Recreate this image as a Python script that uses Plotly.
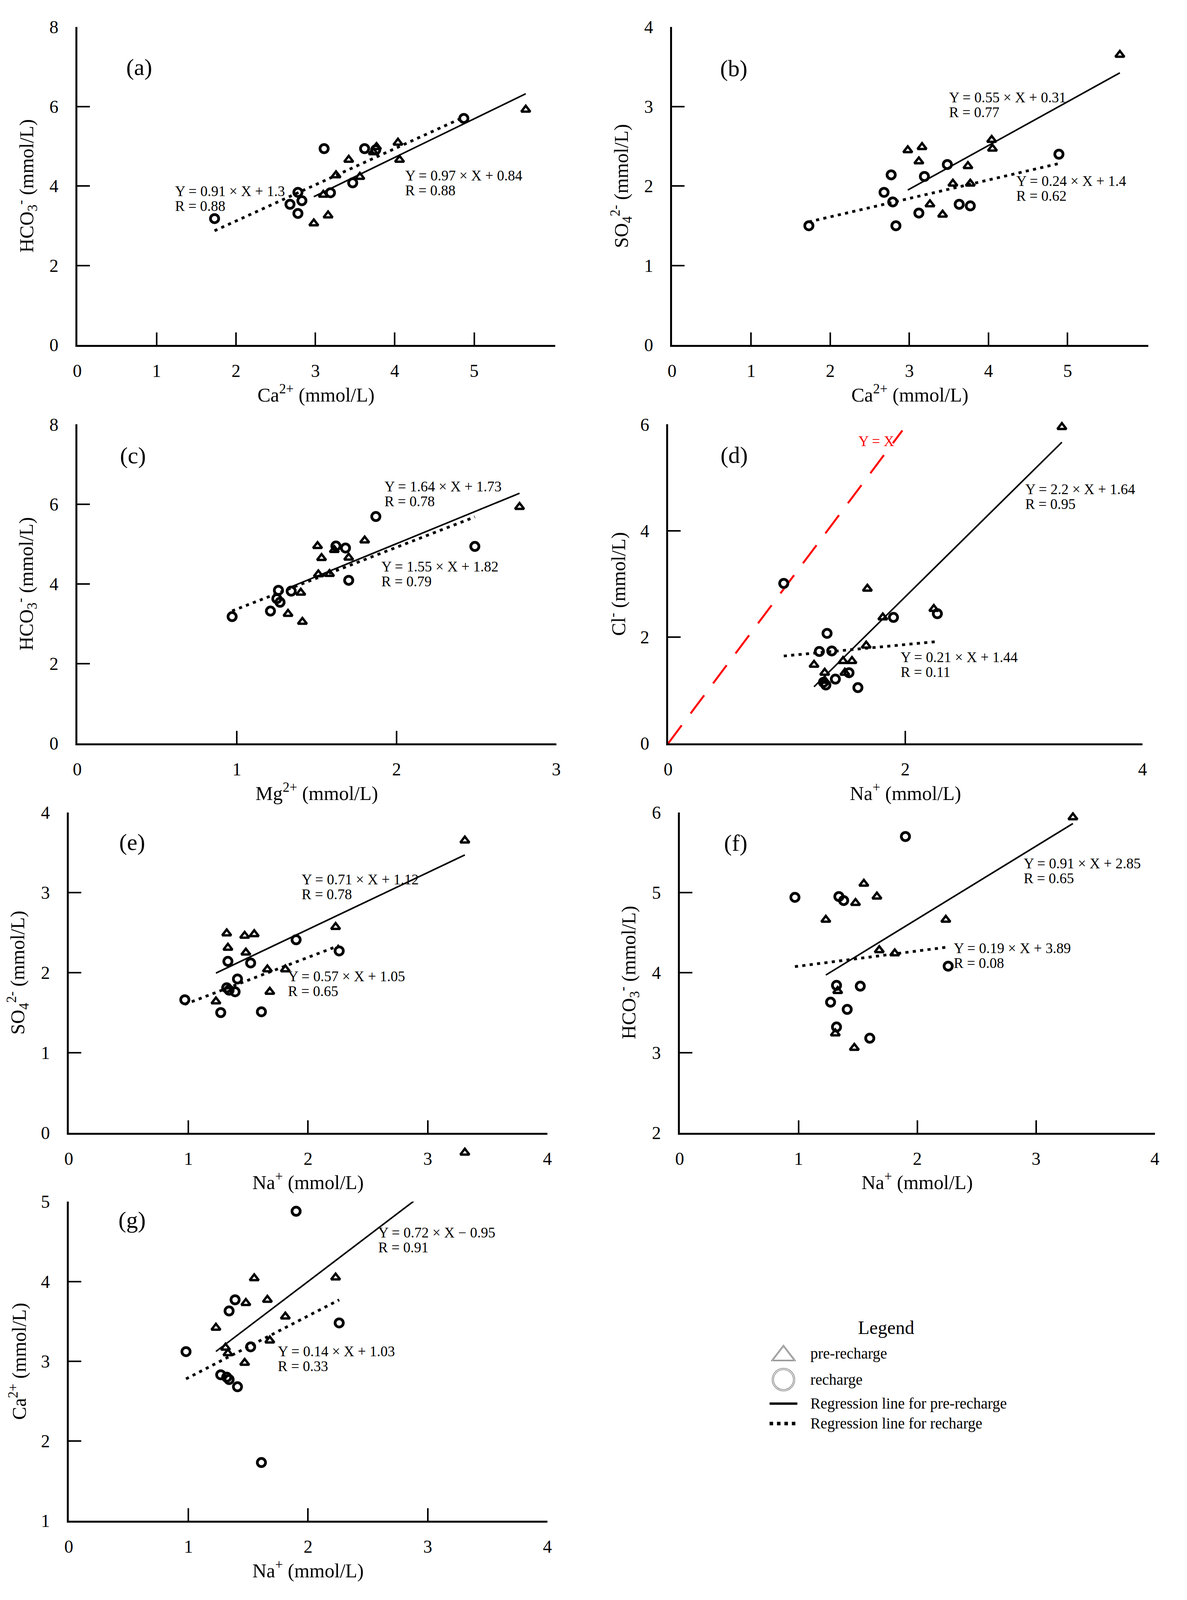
import plotly.graph_objects as go

W, H = 3038, 4582          # reference geometry used for the fractional layout
FONT = "Liberation Serif"

# ---------------- data ----------------
# (a) HCO3- vs Ca2+
a_pre_x = [2.98, 3.16, 3.10, 3.26, 3.42, 3.56, 3.73, 3.77, 4.04, 4.06, 5.65]
a_pre_y = [3.06, 3.26, 3.78, 4.27, 4.66, 4.23, 4.85, 4.98, 5.09, 4.66, 5.92]
a_rec_x = [1.73, 2.78, 2.68, 2.83, 2.78, 3.11, 3.19, 3.47, 3.62, 3.76, 4.87]
a_rec_y = [3.18, 3.84, 3.54, 3.63, 3.31, 4.94, 3.83, 4.08, 4.94, 4.91, 5.70]
# (b) SO4 2- vs Ca2+
b_pre_x = [2.98, 3.16, 3.12, 3.26, 3.42, 3.55, 3.74, 3.77, 4.04, 4.05, 5.66]
b_pre_y = [2.45, 2.49, 2.31, 1.77, 1.64, 2.03, 2.25, 2.03, 2.58, 2.47, 3.65]
b_rec_x = [1.73, 2.77, 2.68, 2.79, 2.83, 3.12, 3.19, 3.48, 3.63, 3.77, 4.89]
b_rec_y = [1.50, 2.14, 1.92, 1.80, 1.50, 1.66, 2.12, 2.27, 1.77, 1.75, 2.40]
# (c) HCO3- vs Mg2+
c_pre_x = [1.41, 1.32, 1.40, 1.505, 1.53, 1.51, 1.58, 1.61, 1.70, 1.80, 2.77]
c_pre_y = [3.05, 3.25, 3.78, 4.95, 4.65, 4.24, 4.25, 4.85, 4.66, 5.09, 5.93]
c_rec_x = [0.97, 1.21, 1.26, 1.25, 1.27, 1.34, 1.62, 1.68, 1.70, 1.87, 2.49]
c_rec_y = [3.18, 3.32, 3.84, 3.63, 3.54, 3.82, 4.95, 4.90, 4.09, 5.69, 4.94]
# (d) Cl- vs Na+
d_pre_x = [1.23, 1.32, 1.32, 1.475, 1.55, 1.49, 1.67, 1.68, 1.81, 2.24, 3.32]
d_pre_y = [1.48, 1.33, 1.18, 1.55, 1.55, 1.33, 1.84, 2.91, 2.37, 2.53, 5.95]
d_rec_x = [0.975, 1.34, 1.275, 1.38, 1.41, 1.31, 1.33, 1.525, 1.60, 1.90, 2.27]
d_rec_y = [3.01, 2.07, 1.73, 1.74, 1.21, 1.15, 1.10, 1.33, 1.05, 2.37, 2.44]
# (e) SO4 2- vs Na+
e_pre_x = [1.23, 1.32, 1.33, 1.47, 1.55, 1.48, 1.66, 1.68, 1.81, 2.23, 3.31, 3.31]
e_pre_y = [1.64, 2.49, 2.31, 2.46, 2.48, 2.25, 2.04, 1.76, 2.04, 2.57, 3.65, -0.25]
e_rec_x = [0.97, 1.27, 1.33, 1.32, 1.34, 1.39, 1.41, 1.52, 1.61, 1.90, 2.26]
e_rec_y = [1.66, 1.50, 2.14, 1.81, 1.78, 1.76, 1.92, 2.12, 1.51, 2.41, 2.27]
# (f) HCO3- vs Na+
f_pre_x = [1.23, 1.31, 1.33, 1.47, 1.48, 1.55, 1.66, 1.68, 1.81, 2.24, 3.31]
f_pre_y = [4.66, 3.24, 3.77, 3.06, 4.87, 5.11, 4.95, 4.28, 4.24, 4.66, 5.94]
f_rec_x = [0.97, 1.27, 1.32, 1.32, 1.34, 1.38, 1.41, 1.52, 1.60, 1.90, 2.26]
f_rec_y = [4.94, 3.63, 3.84, 3.32, 4.95, 4.90, 3.54, 3.83, 3.18, 5.70, 4.08]
# (g) Ca2+ vs Na+
g_pre_x = [1.23, 1.31, 1.33, 1.47, 1.48, 1.55, 1.66, 1.68, 1.81, 2.23, 3.31]
g_pre_y = [3.42, 3.17, 3.10, 2.98, 3.73, 4.04, 3.77, 3.26, 3.56, 4.05, 5.65]
g_rec_x = [0.98, 1.27, 1.32, 1.34, 1.34, 1.39, 1.41, 1.52, 1.61, 1.90, 2.26]
g_rec_y = [3.12, 2.83, 2.80, 2.77, 3.63, 3.77, 2.68, 3.18, 1.73, 4.88, 3.48]

# regression lines as drawn (slope, intercept), pre-recharge and recharge
fit_pre = {"a": (0.97, 0.84), "b": (0.55, 0.31), "c": (1.64, 1.73), "d": (2.20, -1.64),
           "e": (0.71, 1.12), "f": (0.91, 2.85), "g": (1.14, 1.72)}
fit_rec = {"a": (0.91, 1.30), "b": (0.232, 1.148), "c": (1.55, 1.82), "d": (0.21, 1.44),
           "e": (0.57, 1.05), "f": (0.19, 3.89), "g": (0.774, 2.02)}

# equation labels
eq_pre = {"a": ("Y = 0.97 × X + 0.84", "R = 0.88"), "b": ("Y = 0.55 × X + 0.31", "R = 0.77"),
          "c": ("Y = 1.64 × X + 1.73", "R = 0.78"), "d": ("Y = 2.2 × X + 1.64", "R = 0.95"),
          "e": ("Y = 0.71 × X + 1.12", "R = 0.78"), "f": ("Y = 0.91 × X + 2.85", "R = 0.65"),
          "g": ("Y = 0.72 × X − 0.95", "R = 0.91")}
eq_rec = {"a": ("Y = 0.91 × X + 1.3", "R = 0.88"), "b": ("Y = 0.24 × X + 1.4", "R = 0.62"),
          "c": ("Y = 1.55 × X + 1.82", "R = 0.79"), "d": ("Y = 0.21 × X + 1.44", "R = 0.11"),
          "e": ("Y = 0.57 × X + 1.05", "R = 0.65"), "f": ("Y = 0.19 × X + 3.89", "R = 0.08"),
          "g": ("Y = 0.14 × X + 1.03", "R = 0.33")}

# reference line in (d)
ref_slope = 2.98
ref_x = [0.0, 1.975]

x_titles = {"a": "Ca<sup>2+</sup> (mmol/L)", "b": "Ca<sup>2+</sup> (mmol/L)",
            "c": "Mg<sup>2+</sup> (mmol/L)", "d": "Na<sup>+</sup> (mmol/L)",
            "e": "Na<sup>+</sup> (mmol/L)", "f": "Na<sup>+</sup> (mmol/L)",
            "g": "Na<sup>+</sup> (mmol/L)"}
y_titles = {"a": "HCO<sub>3</sub><sup>-</sup> (mmol/L)", "b": "SO<sub>4</sub><sup>2-</sup> (mmol/L)",
            "c": "HCO<sub>3</sub><sup>-</sup> (mmol/L)", "d": "Cl<sup>-</sup> (mmol/L)",
            "e": "SO<sub>4</sub><sup>2-</sup> (mmol/L)", "f": "HCO<sub>3</sub><sup>-</sup> (mmol/L)",
            "g": "Ca<sup>2+</sup> (mmol/L)"}
x_ticks = {"a": [0, 1, 2, 3, 4, 5], "b": [0, 1, 2, 3, 4, 5], "c": [0, 1, 2, 3], "d": [0, 2, 4],
           "e": [0, 1, 2, 3, 4], "f": [0, 1, 2, 3, 4], "g": [0, 1, 2, 3, 4]}
y_ticks = {"a": [0, 2, 4, 6, 8], "b": [0, 1, 2, 3, 4], "c": [0, 2, 4, 6, 8], "d": [0, 2, 4, 6],
           "e": [0, 1, 2, 3, 4], "f": [2, 3, 4, 5, 6], "g": [1, 2, 3, 4, 5]}

data = {"a": (a_pre_x, a_pre_y, a_rec_x, a_rec_y), "b": (b_pre_x, b_pre_y, b_rec_x, b_rec_y),
        "c": (c_pre_x, c_pre_y, c_rec_x, c_rec_y), "d": (d_pre_x, d_pre_y, d_rec_x, d_rec_y),
        "e": (e_pre_x, e_pre_y, e_rec_x, e_rec_y), "f": (f_pre_x, f_pre_y, f_rec_x, f_rec_y),
        "g": (g_pre_x, g_pre_y, g_rec_x, g_rec_y)}

# ---------------- layout (reference pixel geometry -> fractions) ----------------
geom = {  # x-left, x-right, y-top, y-bottom (px), x-range, y-range
    "a": (181, 1420, 41, 967, [0, 6.02], [0, 8]),
    "b": (1723, 2958, 41, 967, [0, 6.02], [0, 4]),
    "c": (181, 1423, 1198, 2127, [0, 3], [0, 8]),
    "d": (1713, 2943, 1198, 2127, [0, 4], [0, 6]),
    "e": (159, 1400, 2328, 3260, [0, 4], [0, 4]),
    "f": (1743, 2975, 2328, 3260, [0, 4], [2, 6]),
    "g": (159, 1400, 3461, 4390, [0, 4], [1, 5]),
}
label_pos = {"a": (0.78, 6.99), "b": (0.78, 3.48), "c": (0.35, 7.22), "d": (0.556, 5.42),
             "e": (0.53, 3.63), "f": (0.47, 5.62), "g": (0.53, 4.77)}
eq_pre_pos = {"a": (4.12, 4.08), "b": (3.49, 3.02), "c": (1.92, 6.26), "d": (3.006, 4.64),
              "e": (1.94, 3.07), "f": (2.89, 5.27), "g": (2.58, 4.52)}
eq_rec_pos = {"a": (1.22, 3.68), "b": (4.34, 1.97), "c": (1.90, 4.25), "d": (1.953, 1.48),
              "e": (1.824, 1.86), "f": (2.30, 4.21), "g": (1.74, 3.03)}

TICK_F = 46
TITLE_F = 50
EQ_F = 37
LAB_F = 60
LINE_SP = 19
EXT_PX = 120   # extra room below panel (e) for the point plotted under its axis

fig = go.Figure()
annotations = []
layout_axes = {}

for i, k in enumerate(["a", "b", "c", "d", "e", "f", "g"], start=1):
    x0, x1, yt, yb, xr, yr = geom[k]
    xa = "x" if i == 1 else f"x{i}"
    ya = "y" if i == 1 else f"y{i}"
    xname = "xaxis" if i == 1 else f"xaxis{i}"
    yname = "yaxis" if i == 1 else f"yaxis{i}"
    common = dict(showgrid=False, zeroline=False, showline=True, linewidth=5, linecolor="black",
                  ticks="inside", ticklen=32, tickwidth=4, tickcolor="black",
                  tickfont=dict(family=FONT, size=TICK_F, color="black"), mirror=False)
    layout_axes[xname] = dict(common, domain=[x0 / W, x1 / W], range=xr, anchor=ya,
                              tickmode="array", tickvals=x_ticks[k], ticklabelstandoff=22)
    layout_axes[yname] = dict(common, domain=[1 - yb / H, 1 - yt / H], range=yr, anchor=xa,
                              tickmode="array", tickvals=y_ticks[k], ticklabelstandoff=34)

    px_, py_, rx_, ry_ = data[k]
    # regression lines
    sp, ip = fit_pre[k]
    lx = [min(px_), max(px_)]
    fig.add_trace(go.Scatter(x=lx, y=[sp * v + ip for v in lx], mode="lines", xaxis=xa, yaxis=ya,
                             line=dict(color="black", width=4), showlegend=False, hoverinfo="skip"))
    sr, ir = fit_rec[k]
    lxr = [min(rx_), max(rx_)]
    fig.add_trace(go.Scatter(x=lxr, y=[sr * v + ir for v in lxr], mode="lines", xaxis=xa, yaxis=ya,
                             line=dict(color="black", width=7, dash="8px,11px"), showlegend=False,
                             hoverinfo="skip"))
    if k == "d":
        fig.add_trace(go.Scatter(x=ref_x, y=[ref_slope * v for v in ref_x], mode="lines",
                                 xaxis=xa, yaxis=ya, showlegend=False, hoverinfo="skip",
                                 line=dict(color="#ff0000", width=5, dash="58px,38px")))
        annotations.append(dict(x=1.756, y=5.68, xref=xa, yref=ya, text="Y = X", showarrow=False,
                                font=dict(family=FONT, size=EQ_F, color="#ff0000")))
    # markers
    pre_y_axis = ya
    if k == "e":
        # invisible twin y-axis reaching below the x-axis so the low point is still drawn
        span = yr[1] - yr[0]
        layout_axes["yaxis9"] = dict(domain=[1 - (yb + EXT_PX) / H, 1 - yt / H],
                                     range=[yr[0] - span * EXT_PX / (yb - yt), yr[1]],
                                     anchor=xa, visible=False)
        pre_y_axis = "y9"
    fig.add_trace(go.Scatter(x=px_, y=py_, mode="markers", xaxis=xa, yaxis=pre_y_axis,
                             showlegend=False, cliponaxis=False,
                             marker=dict(symbol="triangle-up-open", size=20, color="black",
                                         line=dict(width=6, color="black"))))
    fig.add_trace(go.Scatter(x=rx_, y=ry_, mode="markers", xaxis=xa, yaxis=ya, showlegend=False,
                             cliponaxis=False,
                             marker=dict(symbol="circle-open", size=21, color="black",
                                         line=dict(width=7, color="black"))))

    # panel label
    lx0, ly0 = label_pos[k]
    annotations.append(dict(x=lx0, y=ly0, xref=xa, yref=ya, text=f"({k})", showarrow=False,
                            font=dict(family=FONT, size=LAB_F, color="black")))
    # equations
    for (ex, ey), (t1, t2) in ((eq_pre_pos[k], eq_pre[k]), (eq_rec_pos[k], eq_rec[k])):
        annotations.append(dict(x=ex, y=ey, xref=xa, yref=ya, text=t1, showarrow=False,
                                xanchor="left", yanchor="middle", yshift=LINE_SP,
                                font=dict(family=FONT, size=EQ_F, color="black")))
        annotations.append(dict(x=ex, y=ey, xref=xa, yref=ya, text=t2, showarrow=False,
                                xanchor="left", yanchor="middle", yshift=-LINE_SP,
                                font=dict(family=FONT, size=EQ_F, color="black")))
    # axis titles
    annotations.append(dict(x=0.5, y=0, xref=f"{xa} domain", yref=f"{ya} domain",
                            text=x_titles[k], showarrow=False, yanchor="middle", yshift=-124,
                            font=dict(family=FONT, size=TITLE_F, color="black")))
    annotations.append(dict(x=0, y=0.5, xref=f"{xa} domain", yref=f"{ya} domain",
                            text=y_titles[k], showarrow=False, xanchor="center", xshift=-130,
                            textangle=-90, font=dict(family=FONT, size=TITLE_F, color="black")))

# ---------------- legend (hidden axis in reference pixel units) ----------------
layout_axes["xaxis8"] = dict(domain=[0, 1], range=[0, W], visible=False, anchor="y8")
layout_axes["yaxis8"] = dict(domain=[0, 1], range=[H, 0], visible=False, anchor="x8")
LEG_SYM_X = 2012
leg_rows = {"title": 3827, "pre": 3903, "rec": 3979, "lpre": 4049, "lrec": 4107}
for s, w in ((54, 1.6), (46, 1.6)):
    fig.add_trace(go.Scatter(x=[LEG_SYM_X], y=[leg_rows["pre"] + 6], mode="markers", xaxis="x8",
                             yaxis="y8", showlegend=False,
                             marker=dict(symbol="triangle-up-open", size=s, color="#7a7a7a",
                                         line=dict(width=w, color="#7a7a7a"))))
for s, w in ((58, 1.6), (51, 1.6)):
    fig.add_trace(go.Scatter(x=[LEG_SYM_X], y=[leg_rows["rec"]], mode="markers", xaxis="x8",
                             yaxis="y8", showlegend=False,
                             marker=dict(symbol="circle-open", size=s, color="#7a7a7a",
                                         line=dict(width=w, color="#7a7a7a"))))
fig.add_trace(go.Scatter(x=[LEG_SYM_X - 36, LEG_SYM_X + 36], y=[leg_rows["lpre"]] * 2, mode="lines",
                         xaxis="x8", yaxis="y8", showlegend=False,
                         line=dict(color="black", width=6)))
fig.add_trace(go.Scatter(x=[LEG_SYM_X - 36, LEG_SYM_X + 36], y=[leg_rows["lrec"]] * 2, mode="lines",
                         xaxis="x8", yaxis="y8", showlegend=False,
                         line=dict(color="black", width=9, dash="9px,10px")))
annotations.append(dict(x=2278, y=leg_rows["title"], xref="x8", yref="y8", text="Legend",
                        showarrow=False, font=dict(family=FONT, size=48, color="black")))
for key, txt in (("pre", "pre-recharge"), ("rec", "recharge"),
                 ("lpre", "Regression line for pre-recharge"),
                 ("lrec", "Regression line for recharge")):
    annotations.append(dict(x=2080, y=leg_rows[key], xref="x8", yref="y8", text=txt,
                            showarrow=False, xanchor="left", yanchor="middle",
                            font=dict(family=FONT, size=39, color="black")))

fig.update_layout(autosize=True, margin=dict(l=0, r=0, t=0, b=0),
                  paper_bgcolor="white", plot_bgcolor="rgba(0,0,0,0)",
                  showlegend=False, annotations=annotations, **layout_axes)

# fill the visible browser viewport
fig.write_html("out.html", default_width="100%", default_height="calc(100vh - 16px)")
